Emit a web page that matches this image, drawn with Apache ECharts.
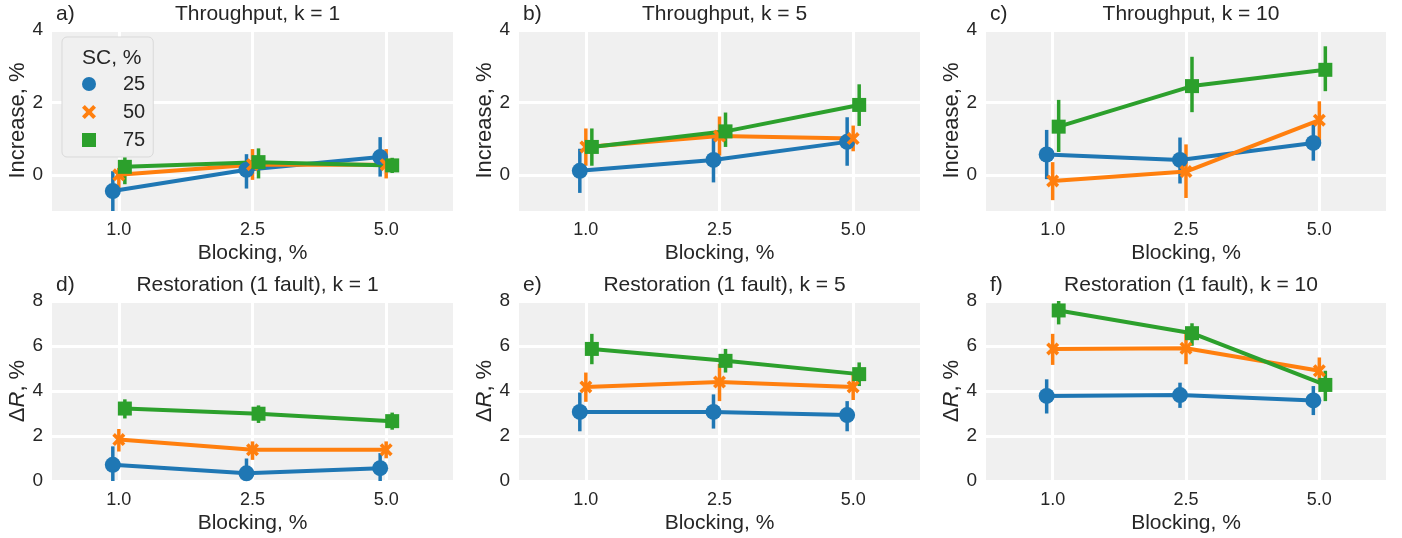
<!DOCTYPE html>
<html>
<head>
<meta charset="utf-8">
<script src="https://cdn.jsdelivr.net/npm/echarts@6/dist/echarts.min.js"></script>
<style>
  html, body { margin: 0; padding: 0; background: #fff; }
  #chart { width: 1402px; height: 538px; }
</style>
</head>
<body>
<div id="chart"></div>
<script>
const blocking = ['1.0', '2.5', '5.0']
const scLevels = ['25', '50', '75']

// rows = SC level (25, 50, 75), columns = blocking (1.0, 2.5, 5.0)
const thrK1Mean = [[-0.45, 0.14, 0.49], [0.0, 0.28, 0.28], [0.22, 0.35, 0.26]]
const thrK1Lo = [[-1.0, -0.38, -0.05], [-0.38, -0.14, -0.1], [-0.26, -0.1, 0.05]]
const thrK1Hi = [[0.1, 0.57, 1.04], [0.19, 0.71, 0.71], [0.64, 0.73, 0.47]]

const thrK5Mean = [[0.11, 0.41, 0.91], [0.77, 1.07, 1.0], [0.77, 1.2, 1.93]]
const thrK5Lo = [[-0.5, -0.21, 0.25], [0.25, 0.53, 0.65], [0.25, 0.77, 1.35]]
const thrK5Hi = [[0.72, 1.05, 1.59], [1.28, 1.61, 1.36], [1.28, 1.72, 2.5]]

const thrK10Mean = [[0.56, 0.41, 0.88], [-0.17, 0.09, 1.51], [1.33, 2.45, 2.9]]
const thrK10Lo = [[-0.12, -0.24, 0.39], [-0.7, -0.64, 0.93], [0.63, 1.73, 2.31]]
const thrK10Hi = [[1.24, 1.03, 1.42], [0.35, 0.84, 2.03], [2.07, 3.26, 3.55]]

const resK1Mean = [[0.72, 0.34, 0.57], [1.84, 1.39, 1.39], [3.22, 2.99, 2.66]]
const resK1Lo = [[0, 0, 0], [1.31, 0.94, 1.01], [2.78, 2.58, 2.28]]
const resK1Hi = [[1.54, 1.0, 1.24], [2.31, 1.76, 1.76], [3.63, 3.36, 3.04]]

const resK5Mean = [[3.07, 3.07, 2.93], [4.18, 4.4, 4.18], [5.87, 5.34, 4.75]]
const resK5Lo = [[2.21, 2.33, 2.21], [3.52, 3.55, 3.6], [5.19, 4.82, 4.22]]
const resK5Hi = [[3.93, 3.85, 3.55], [4.82, 5.2, 4.75], [6.54, 5.87, 5.27]]

const resK10Mean = [[3.78, 3.82, 3.58], [5.87, 5.9, 4.9], [7.58, 6.57, 4.27]]
const resK10Lo = [[3.0, 3.25, 2.93], [5.16, 5.19, 4.3], [6.96, 6.01, 3.55]]
const resK10Hi = [[4.52, 4.37, 4.22], [6.54, 6.54, 5.49], [8.2, 7.01, 4.9]]

const thrTicks = [0, 2, 4]
const resTicks = [0, 2, 4, 6, 8]

const colors = ['#1f77b4', '#ff7f0e', '#2ca02c']
const crossPath = 'path://M0,2 L2,0 L5,3 L8,0 L10,2 L7,5 L10,8 L8,10 L5,7 L2,10 L0,8 L3,5 Z'
const symbols = ['circle', crossPath, 'rect']
const symbolSizes = [16, 13, 14]
const dodge = 0.09
const font = '"Liberation Sans", Arial, sans-serif'
const ink = '#262626'

const panels = [
  { tag: 'a)', title: 'Throughput, k = 1', mean: thrK1Mean, lo: thrK1Lo, hi: thrK1Hi, row: 0, rect: [52, 30, 401, 181] },
  { tag: 'b)', title: 'Throughput, k = 5', mean: thrK5Mean, lo: thrK5Lo, hi: thrK5Hi, row: 0, rect: [519, 30, 401, 181] },
  { tag: 'c)', title: 'Throughput, k = 10', mean: thrK10Mean, lo: thrK10Lo, hi: thrK10Hi, row: 0, rect: [986, 30, 400, 181] },
  { tag: 'd)', title: 'Restoration (1 fault), k = 1', mean: resK1Mean, lo: resK1Lo, hi: resK1Hi, row: 1, rect: [52, 301, 401, 180] },
  { tag: 'e)', title: 'Restoration (1 fault), k = 5', mean: resK5Mean, lo: resK5Lo, hi: resK5Hi, row: 1, rect: [519, 301, 401, 180] },
  { tag: 'f)', title: 'Restoration (1 fault), k = 10', mean: resK10Mean, lo: resK10Lo, hi: resK10Hi, row: 1, rect: [986, 301, 400, 180] }
]

const grid = []
const xAxis = []
const yAxis = []
const series = []
const title = []

panels.forEach((p, gi) => {
  const [left, top, width, height] = p.rect
  grid.push({
    left, top, width, height,
    show: true,
    backgroundColor: '#f0f0f0',
    borderWidth: 0
  })

  title.push({
    text: p.title,
    left: left + width / 2,
    top: top - 31,
    textAlign: 'center',
    textStyle: { fontFamily: font, fontSize: 21, fontWeight: 'normal', color: ink }
  })
  title.push({
    text: p.tag,
    left: left - 1,
    top: top - 31,
    textStyle: { fontFamily: font, fontSize: 21, fontWeight: 'normal', color: ink }
  })

  xAxis.push({
    gridIndex: gi,
    type: 'value',
    min: -0.5,
    max: 2.5,
    name: 'Blocking, %',
    nameLocation: 'middle',
    nameGap: 32,
    nameTextStyle: { fontFamily: font, fontSize: 21, color: ink },
    axisLine: { show: false },
    axisTick: { show: false, customValues: [0, 1, 2] },
    axisLabel: {
      customValues: [0, 1, 2],
      formatter: (v) => blocking[Math.round(v)],
      fontFamily: font, fontSize: 18, color: ink, margin: 10
    },
    splitLine: { show: true, lineStyle: { color: '#ffffff', width: 3 } }
  })

  const ticks = p.row === 0 ? thrTicks : resTicks
  yAxis.push({
    gridIndex: gi,
    type: 'value',
    min: p.row === 0 ? -1 : 0,
    max: p.row === 0 ? 4 : 8,
    name: p.row === 0 ? 'Increase, %' : '{d|Δ}{i|R}{d|, %}',
    nameLocation: 'middle',
    nameGap: 21,
    nameRotate: 90,
    nameTextStyle: {
      fontFamily: font, fontSize: 22, color: ink,
      rich: {
        d: { fontFamily: font, fontSize: 22, color: ink },
        i: { fontFamily: font, fontSize: 22, color: ink, fontStyle: 'italic' }
      }
    },
    axisLine: { show: false },
    axisTick: { show: false, customValues: ticks },
    axisLabel: { customValues: ticks, fontFamily: font, fontSize: 19, color: ink, margin: 9 },
    splitLine: { show: true, lineStyle: { color: '#ffffff', width: 3 } }
  })

  scLevels.forEach((sc, si) => {
    const off = (si - 1) * dodge / 2
    const pts = blocking.map((_b, bi) => [bi + off, p.mean[si][bi]])
    const bars = blocking.map((_b, bi) => [bi + off, p.lo[si][bi], p.hi[si][bi]])
    series.push({
      type: 'custom',
      name: sc,
      xAxisIndex: gi,
      yAxisIndex: gi,
      clip: true,
      itemStyle: { color: colors[si] },
      data: bars,
      renderItem: (params, api) => {
        const a = api.coord([api.value(0), api.value(1)])
        const b = api.coord([api.value(0), api.value(2)])
        return {
          type: 'line',
          shape: { x1: a[0], y1: a[1], x2: b[0], y2: b[1] },
          style: { stroke: api.visual('color'), lineWidth: 3.5 }
        }
      }
    })
    series.push({
      type: 'line',
      name: sc,
      xAxisIndex: gi,
      yAxisIndex: gi,
      data: pts,
      symbol: symbols[si],
      symbolSize: symbolSizes[si],
      showAllSymbol: true,
      lineStyle: { color: colors[si], width: 4 },
      itemStyle: { color: colors[si], borderWidth: 0 }
    })
  })
})

// legend title
title.push({
  text: 'SC, %',
  left: 77,
  top: 43,
  textStyle: { fontFamily: font, fontSize: 21, fontWeight: 'normal', color: ink }
})

const chart = echarts.init(document.getElementById('chart'), null, { renderer: 'canvas' })
chart.setOption({
  animation: false,
  backgroundColor: '#ffffff',
  title,
  legend: {
    orient: 'vertical',
    left: 62,
    top: 37,
    padding: [37, 8, 7, 20],
    itemWidth: 14,
    itemHeight: 14,
    itemGap: 8,
    backgroundColor: '#f0f0f0',
    borderColor: '#d9d9d9',
    borderWidth: 1,
    borderRadius: 5,
    data: scLevels.map((sc, i) => ({ name: sc, icon: symbols[i], itemStyle: { color: colors[i] } })),
    textStyle: { fontFamily: font, fontSize: 20, color: ink, padding: [0, 0, 0, 22] },
    selectedMode: false
  },
  tooltip: { show: false },
  grid,
  xAxis,
  yAxis,
  series
})
</script>
</body>
</html>
